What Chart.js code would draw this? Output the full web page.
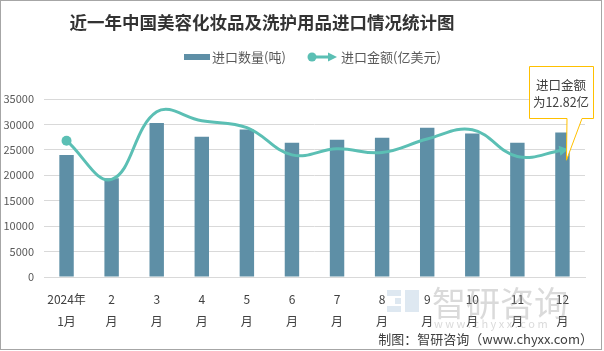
<!DOCTYPE html>
<html>
<head>
<meta charset="utf-8">
<script src="https://cdn.jsdelivr.net/npm/chart.js@4.4.1/dist/chart.umd.min.js"></script>
<style>
  html, body { margin: 0; padding: 0; background: #fff; }
  #wrap { width: 604px; height: 351px; position: relative; }
</style>
</head>
<body>
<div id="wrap"><canvas id="chart" width="604" height="351"></canvas></div>
<script>
// data
const months = [['2024年', '1月'], ['2', '月'], ['3', '月'], ['4', '月'], ['5', '月'], ['6', '月'],
                ['7', '月'], ['8', '月'], ['9', '月'], ['10', '月'], ['11', '月'], ['12', '月']];
const importTons = [24000, 19400, 30300, 27600, 29000, 26400, 27000, 27400, 29350, 28200, 26400, 28400];
const importValue = [13.78, 9.87, 16.7, 15.8, 15.1, 12.35, 12.96, 12.59, 13.95, 14.89, 12.18, 12.82];
const yTicks = [0, 5000, 10000, 15000, 20000, 25000, 30000, 35000];

const barColor = '#5E8FA6';
const lineColor = '#5BBFB4';
const FONT = '"Noto Sans CJK SC", "Noto Sans", sans-serif';

const lastIdx = importValue.length - 1;

// title, legend, callout, footer, border
const decor = {
  id: 'decor',
  afterDraw(chart) {
    const ctx = chart.ctx;
    ctx.save();

    // title
    ctx.fillStyle = '#333333';
    ctx.font = 'bold 17.5px ' + FONT;
    ctx.textAlign = 'center';
    ctx.textBaseline = 'middle';
    ctx.fillText('近一年中国美容化妆品及洗护用品进口情况统计图', 262, 22);

    // legend
    ctx.font = '13px ' + FONT;
    ctx.textAlign = 'left';
    ctx.fillStyle = barColor;
    ctx.fillRect(184, 54, 26, 6);
    ctx.fillStyle = '#595959';
    ctx.fillText('进口数量(吨)', 212, 57);

    ctx.strokeStyle = lineColor;
    ctx.fillStyle = lineColor;
    ctx.lineWidth = 3;
    ctx.beginPath();
    ctx.moveTo(312, 57);
    ctx.lineTo(330, 57);
    ctx.stroke();
    ctx.beginPath();
    ctx.arc(312, 57, 4.5, 0, Math.PI * 2);
    ctx.fill();
    ctx.beginPath();
    ctx.moveTo(337, 57);
    ctx.lineTo(328, 52.5);
    ctx.lineTo(328, 61.5);
    ctx.closePath();
    ctx.fill();
    ctx.fillStyle = '#595959';
    ctx.fillText('进口金额(亿美元)', 341, 57);

    // watermark
    ctx.fillStyle = 'rgba(150,150,150,0.35)';
    ctx.font = '34px ' + FONT;
    ctx.textAlign = 'left';
    ctx.fillText('智研咨询', 432, 303);
    ctx.font = '11px ' + FONT;
    ctx.fillText('w w w . c h y x x . c o m', 434, 324);
    ctx.fillStyle = 'rgba(160,190,215,0.35)';
    ctx.fillRect(387, 290, 14, 6);
    ctx.fillRect(395, 298, 6, 6);
    ctx.fillRect(387, 306, 14, 6);
    ctx.fillRect(405, 290, 14, 22);

    // callout for the last point
    const pt = chart.getDatasetMeta(1).data[lastIdx];
    const tipX = pt.x + 4, tipY = pt.y + 10;
    ctx.fillStyle = '#ffffff';
    ctx.strokeStyle = '#FFC000';
    ctx.lineWidth = 1;
    ctx.beginPath();
    ctx.moveTo(529.5, 66.5);
    ctx.lineTo(593.5, 66.5);
    ctx.lineTo(593.5, 118.5);
    ctx.lineTo(582, 118.5);
    ctx.lineTo(tipX, tipY);
    ctx.lineTo(567, 118.5);
    ctx.lineTo(529.5, 118.5);
    ctx.closePath();
    ctx.fill();
    ctx.stroke();
    ctx.fillStyle = '#404040';
    ctx.font = '12.5px ' + FONT;
    ctx.textAlign = 'center';
    ctx.fillText('进口金额', 561, 85);
    ctx.fillText('为' + importValue[lastIdx] + '亿', 561, 102);

    // footer
    ctx.fillStyle = '#404040';
    ctx.font = '13px ' + FONT;
    ctx.textAlign = 'right';
    ctx.fillText('制图：智研咨询（www.chyxx.com）', 593, 339);

    // frame
    ctx.strokeStyle = '#A6A6A6';
    ctx.lineWidth = 1;
    ctx.strokeRect(0.5, 0.5, 601, 349);
    ctx.restore();
  }
};

new Chart(document.getElementById('chart'), {
  data: {
    labels: months,
    datasets: [{
      type: 'bar',
      label: '进口数量(吨)',
      data: importTons,
      backgroundColor: barColor,
      categoryPercentage: 1,
      barPercentage: 0.32,
      yAxisID: 'y',
      order: 2
    }, {
      type: 'line',
      label: '进口金额(亿美元)',
      data: importValue,
      borderColor: lineColor,
      backgroundColor: lineColor,
      borderWidth: 3,
      tension: 0.4,
      pointRadius: importValue.map((v, i) => i === 0 ? 5 : (i === lastIdx ? 6 : 0)),
      pointStyle: importValue.map((v, i) => i === lastIdx ? 'triangle' : 'circle'),
      pointRotation: importValue.map((v, i) => i === lastIdx ? 80 : 0),
      pointBorderWidth: 0,
      yAxisID: 'y2',
      order: 1
    }]
  },
  options: {
    responsive: false,
    animation: false,
    layout: { padding: { top: 99, right: 19, left: 0, bottom: 0 } },
    plugins: {
      legend: { display: false },
      title: { display: false },
      tooltip: { enabled: false }
    },
    scales: {
      x: {
        grid: { display: false },
        border: { color: '#D9D9D9' },
        ticks: {
          color: '#404040',
          padding: 4,
          maxRotation: 0,
          autoSkip: false,
          font: { size: 12, family: FONT, lineHeight: 1.8 }
        },
        afterFit(scale) { scale.height = 74; }
      },
      y: {
        min: 0,
        max: 35000,
        afterBuildTicks(scale) { scale.ticks = yTicks.map(v => ({ value: v })); },
        grid: { color: '#D9D9D9', drawTicks: false },
        border: { display: false },
        ticks: {
          color: '#595959',
          padding: 10,
          font: { size: 11, family: FONT },
          callback: v => String(v)
        },
        afterFit(scale) { scale.width = 44; }
      },
      y2: {
        display: false,
        min: 0,
        max: 18
      }
    }
  },
  plugins: [decor]
});
</script>
</body>
</html>
